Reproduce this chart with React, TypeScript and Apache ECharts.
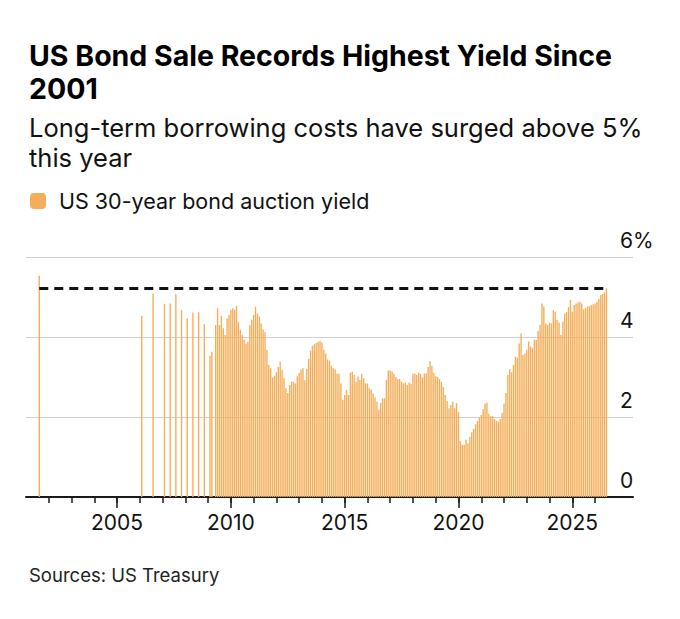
import React, { useEffect, useRef } from "react";
import * as echarts from "echarts";

// auctions before the 30-year went monthly (Feb 2009 onward)
const earlyAuctions: [string, number][] = [
  ["2001-08", 5.53],
  ["2006-02", 4.53],
  ["2006-08", 5.09],
  ["2007-02", 4.83],
  ["2007-05", 4.84],
  ["2007-08", 5.07],
  ["2007-11", 4.68],
  ["2008-02", 4.46],
  ["2008-05", 4.61],
  ["2008-08", 4.62],
  ["2008-11", 4.32],
];

// monthly auction yields, Jan..Dec (null = no auction)
const y2009 = [null, 3.53, 3.63, null, 4.3, 4.72, 4.3, 4.53, 4.22, 4.05, 4.47, 4.55];
const y2010 = [4.68, 4.72, 4.68, 4.78, 4.38, 4.18, 4.05, 3.94, 3.84, 3.88, 4.3, 4.43];
const y2011 = [4.55, 4.76, 4.59, 4.51, 4.34, 4.19, 4.12, 3.68, 3.3, 3.22, 2.99, 3.03];
const y2012 = [3.12, 3.25, 3.38, 3.18, 2.97, 2.72, 2.6, 2.8, 2.88, 2.88, 2.84, 3.02];
const y2013 = [3.1, 3.18, 3.22, 2.92, 3.2, 3.45, 3.66, 3.78, 3.82, 3.85, 3.88, 3.9];
const y2014 = [3.86, 3.68, 3.59, 3.44, 3.41, 3.28, 3.22, 3.19, 3.08, 3.08, 2.84, 2.43];
const y2015 = [2.55, 2.68, 2.55, 3.11, 3.13, 3.05, 2.88, 3.01, 2.93, 3.08, 2.97, 2.84];
const y2016 = [2.84, 2.72, 2.68, 2.59, 2.49, 2.38, 2.18, 2.35, 2.47, 2.47, 2.93, 3.16];
const y2017 = [3.16, 3.14, 3.08, 3.0, 2.95, 2.95, 2.88, 2.84, 2.86, 2.8, 2.86, 2.83];
const y2018 = [3.08, 3.09, 3.05, 3.11, 3.08, 2.99, 3.09, 3.09, 3.25, 3.4, 3.28, 3.1];
const y2019 = [3.02, 3.0, 2.95, 2.88, 2.75, 2.55, 2.4, 2.22, 2.3, 2.38, 2.22, 2.35];
const y2020 = [2.12, 1.4, 1.3, 1.3, 1.43, 1.34, 1.5, 1.62, 1.7, 1.82, 1.9, 1.98];
const y2021 = [2.05, 2.2, 2.33, 2.36, 2.08, 2.02, 2.03, 1.95, 1.9, 1.89, 1.95, 2.1];
const y2022 = [2.34, 2.6, 3.05, 3.2, 3.12, 3.3, 3.51, 3.48, 3.84, 4.09, 3.55, 3.59];
const y2023 = [3.68, 3.89, 3.76, 3.72, 3.93, 3.93, 4.15, 4.3, 4.84, 4.76, 4.34, 4.3];
const y2024 = [4.36, 4.34, 4.67, 4.63, 4.43, 4.36, 4.05, 4.38, 4.59, 4.63, 4.75, 4.93];
const y2025 = [4.63, 4.8, 4.84, 4.86, 4.88, 4.84, 4.69, 4.72, 4.76, 4.77, 4.8, 4.82];
const y2026 = [4.84, 4.88, 4.95, 5.05, 5.08, 5.12, 5.22];

const monthlyYears: [number, (number | null)[]][] = [
  [2009, y2009], [2010, y2010], [2011, y2011], [2012, y2012], [2013, y2013],
  [2014, y2014], [2015, y2015], [2016, y2016], [2017, y2017], [2018, y2018],
  [2019, y2019], [2020, y2020], [2021, y2021], [2022, y2022], [2023, y2023],
  [2024, y2024], [2025, y2025], [2026, y2026],
];

const yTicks = [0, 2, 4, 6];
const labelYears = [2005, 2010, 2015, 2020, 2025];
const lastTickYear = 2026;

const FONT = "Inter, 'Liberation Sans', sans-serif";
const BAR = "#F4AD58";
const INK = "#1a1a1a";

const pad = (n: number) => (n < 10 ? "0" + n : "" + n);

// month categories from Jan 2001 to Sep 2027 (axis runs past the last auction)
const months: string[] = [];
for (let y = 2001; y <= 2027; y++) {
  for (let m = 1; m <= 12; m++) {
    if (y === 2027 && m > 9) break;
    months.push(`${y}-${pad(m)}`);
  }
}

const lookup = new Map<string, number>();
earlyAuctions.forEach(([k, v]) => lookup.set(k, v));
monthlyYears.forEach(([y, arr]) =>
  arr.forEach((v, i) => {
    if (v != null) lookup.set(`${y}-${pad(i + 1)}`, v);
  })
);
const values = months.map((m) => (lookup.has(m) ? lookup.get(m) : null));

const latestKey = `2026-${pad(y2026.length)}`;
const latest = y2026[y2026.length - 1];

const isYearStart = (v: string) => {
  const y = +v.slice(0, 4);
  return v.endsWith("-01") && y > 2001 && y <= lastTickYear;
};
const isLabelYear = (v: string) => v.endsWith("-01") && labelYears.includes(+v.slice(0, 4));

const App = () => {
  const ref = useRef<HTMLDivElement>(null);

  useEffect(() => {
    const chart = echarts.init(ref.current, null, { renderer: "svg" });
    chart.setOption({
      animation: false,
      backgroundColor: "#fff",
      textStyle: { fontFamily: FONT },
      title: [
        {
          text: "US Bond Sale Records Highest Yield Since\n2001",
          left: 29,
          top: 39,
          padding: 0,
          textStyle: { fontFamily: FONT, fontSize: 28.5, fontWeight: "bold", lineHeight: 33, color: "#000" },
        },
        {
          text: "Long-term borrowing costs have surged above 5%\nthis year",
          left: 29,
          top: 112,
          padding: 0,
          textStyle: { fontFamily: FONT, fontSize: 25.5, fontWeight: "normal", lineHeight: 30, color: "#111" },
        },
        {
          text: "Sources: US Treasury",
          left: 29,
          top: 565,
          padding: 0,
          textStyle: { fontFamily: FONT, fontSize: 18.5, fontWeight: "normal", color: "#222" },
        },
      ],
      legend: {
        left: 30,
        top: 190,
        padding: 0,
        selectedMode: false,
        icon: "roundRect",
        itemWidth: 16,
        itemHeight: 16,
        textStyle: { fontFamily: FONT, fontSize: 21.5, color: "#111", padding: [0, 0, 0, 8] },
        data: ["US 30-year bond auction yield"],
      },
      grid: { left: 26, right: 47, top: 257, bottom: 122 },
      xAxis: [
        {
          type: "category",
          position: "bottom",
          data: months,
          boundaryGap: false,
          axisLine: { lineStyle: { color: INK, width: 2 } },
          axisTick: {
            interval: (_i: number, v: string) => isYearStart(v),
            length: 6,
            lineStyle: { color: INK, width: 1.5 },
          },
          axisLabel: { show: false },
          splitLine: { show: false },
        },
        {
          type: "category",
          position: "bottom",
          data: months,
          boundaryGap: false,
          axisLine: { show: false },
          axisTick: {
            interval: (_i: number, v: string) => isLabelYear(v),
            length: 11,
            lineStyle: { color: INK, width: 1.5 },
          },
          axisLabel: {
            interval: (_i: number, v: string) => isLabelYear(v),
            formatter: (v: string) => v.slice(0, 4),
            fontFamily: FONT,
            fontSize: 21,
            color: "#111",
            margin: 15,
          },
          splitLine: { show: false },
        },
      ],
      yAxis: {
        type: "value",
        position: "right",
        min: yTicks[0],
        max: yTicks[yTicks.length - 1],
        interval: 2,
        axisLine: { show: false },
        axisTick: { show: false },
        splitLine: { lineStyle: { color: "#cfcfcf", width: 1 } },
        axisLabel: {
          formatter: (v: number) => (v === 6 ? "6%" : String(v)),
          fontFamily: FONT,
          fontSize: 21,
          color: "#111",
          margin: -13,
          align: "left",
          verticalAlign: "bottom",
          padding: [0, 0, 6, 0],
        },
      },
      series: [
        {
          name: "US 30-year bond auction yield",
          type: "bar",
          data: values,
          barWidth: "72%",
          itemStyle: { color: BAR },
          markLine: {
            silent: true,
            symbol: ["none", "none"],
            label: { show: false },
            lineStyle: { color: "#111", type: [9, 6], width: 3 },
            data: [[{ coord: ["2001-08", latest] }, { coord: [latestKey, latest] }]],
          },
        },
      ],
    });
    return () => {
      chart.dispose();
    };
  }, []);

  return (
    <div
      ref={ref}
      style={{ position: "fixed", left: 0, top: 0, width: 680, height: 619, background: "#fff" }}
    ></div>
  );
};

export default App;
